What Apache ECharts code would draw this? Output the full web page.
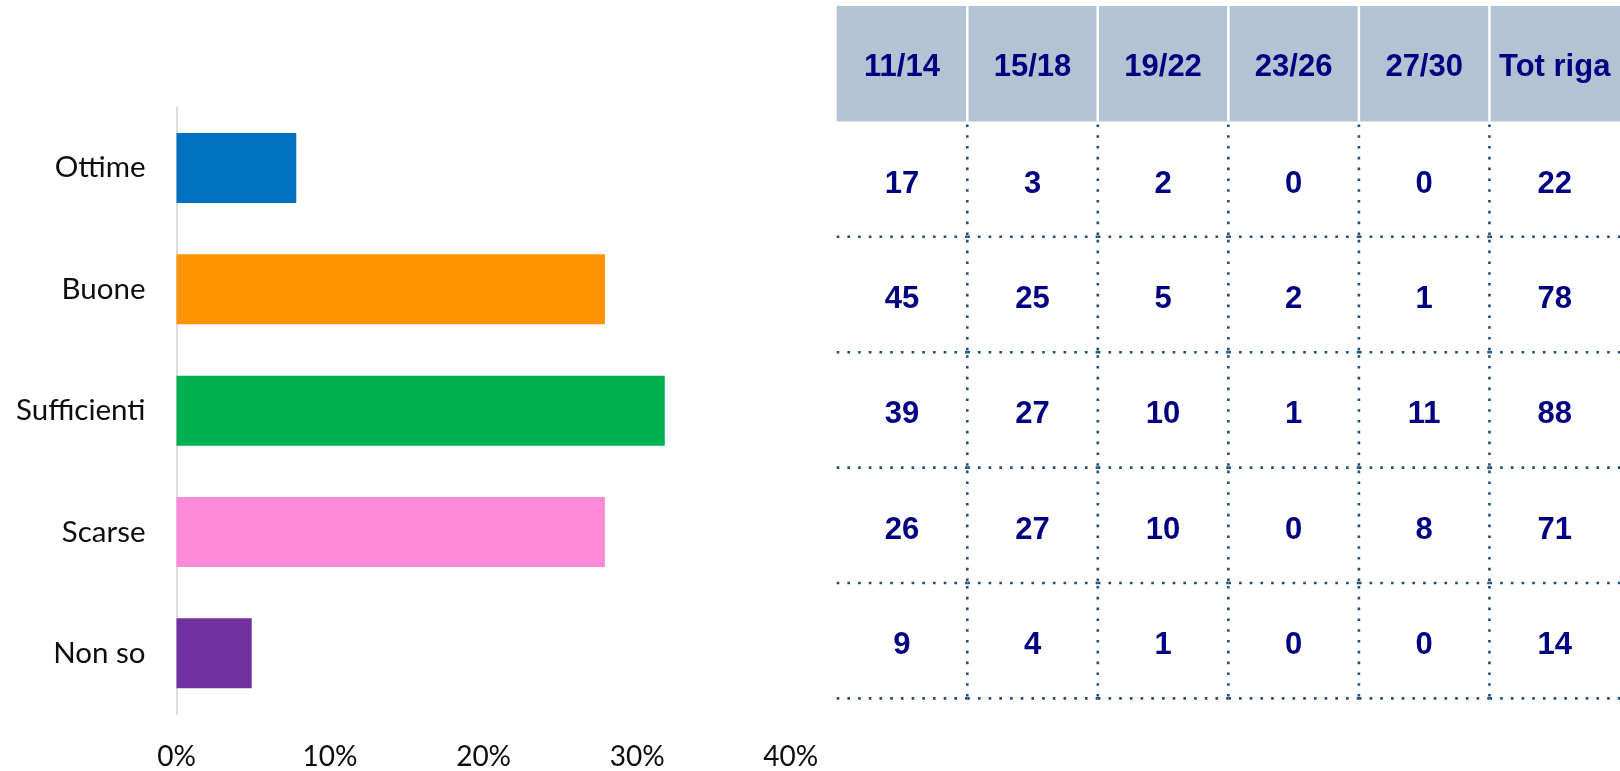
<!DOCTYPE html>
<html>
<head>
<meta charset="utf-8">
<script src="https://cdn.jsdelivr.net/npm/echarts@6/dist/echarts.min.js"></script>
<style>
html,body{margin:0;padding:0;background:#fff;}
#chart{width:1620px;height:771px;}
</style>
</head>
<body>
<div id="chart"></div>
<script>
// ---- Data ----
const categories = ['Ottime', 'Buone', 'Sufficienti', 'Scarse', 'Non so'];
const percentages = [7.8, 27.9, 31.8, 27.9, 4.9];
const barColors = ['#0070C0', '#FF9400', '#00B050', '#FF8AD8', '#7030A0'];
const xTicks = [0, 10, 20, 30, 40];

const tableColumns = ['11/14', '15/18', '19/22', '23/26', '27/30', 'Tot riga'];
const rowOttime = [17, 3, 2, 0, 0, 22];
const rowBuone = [45, 25, 5, 2, 1, 78];
const rowSufficienti = [39, 27, 10, 1, 11, 88];
const rowScarse = [26, 27, 10, 0, 8, 71];
const rowNonSo = [9, 4, 1, 0, 0, 14];

// ---- Build table cells ----
const tableRows = [rowOttime, rowBuone, rowSufficienti, rowScarse, rowNonSo];
const rowNames = ['header'].concat(categories);
const cells = [];
const cellLabels = [];
tableColumns.forEach(function (name, c) {
  cells.push([c, 0]);
  cellLabels.push(name);
});
tableRows.forEach(function (vals, r) {
  vals.forEach(function (v, c) {
    cells.push([c, r + 1]);
    cellLabels.push(String(v));
  });
});

const dotColor = '#1F4E79';
function renderCell(params, api) {
  const col = api.value(0), row = api.value(1);
  const c = api.coord([col, row]);
  const s = api.size([1, 1]);
  const x0 = c[0] - s[0] / 2, y0 = c[1] - s[1] / 2, w = s[0], h = s[1];
  const children = [];
  if (row === 0) {
    children.push({ type: 'rect', shape: { x: x0, y: y0, width: w, height: h }, style: { fill: '#B3C3D3' } });
    if (col > 0) {
      children.push({ type: 'line', shape: { x1: x0, y1: y0, x2: x0, y2: y0 + h }, style: { stroke: '#ffffff', lineWidth: 2.5 } });
    }
  } else {
    children.push({ type: 'line', shape: { x1: x0, y1: y0 + h, x2: x0 + w, y2: y0 + h },
      style: { stroke: dotColor, lineWidth: 2.6, lineDash: [2.6, 8.1] } });
    if (col > 0) {
      children.push({ type: 'line', shape: { x1: x0, y1: y0 + 3, x2: x0, y2: y0 + h },
        style: { stroke: dotColor, lineWidth: 2.6, lineDash: [2.6, 8.2] } });
    }
  }
  children.push({
    type: 'text',
    style: {
      text: cellLabels[params.dataIndex],
      x: c[0], y: c[1] + (row === 0 ? 4 : 5),
      align: 'center', verticalAlign: 'middle',
      fill: '#000080',
      font: 'bold 31px "Liberation Sans", Arial, sans-serif'
    }
  });
  return { type: 'group', children: children };
}

const chart = echarts.init(document.getElementById('chart'), null, { renderer: 'canvas' });
chart.setOption({
  animation: false,
  backgroundColor: '#ffffff',
  grid: [
    { left: 176.5, top: 107.3, width: 614.2, height: 609.4, containLabel: false },
    { left: 836.7, top: 6, width: 790.6, height: 692.4, containLabel: false }
  ],
  xAxis: [
    {
      gridIndex: 0, type: 'value', min: xTicks[0], max: xTicks[xTicks.length - 1], interval: 10,
      axisLine: { show: false }, axisTick: { show: false }, splitLine: { show: false },
      axisLabel: { formatter: '{value}%', fontSize: 28, color: '#0d0d0d', fontFamily: 'Lato, "Liberation Sans", sans-serif', margin: 29 }
    },
    {
      gridIndex: 1, type: 'category', data: tableColumns, boundaryGap: true,
      axisLine: { show: false }, axisTick: { show: false }, axisLabel: { show: false }, splitLine: { show: false }
    }
  ],
  yAxis: [
    {
      gridIndex: 0, type: 'category', data: categories, inverse: true,
      axisLine: { show: true, lineStyle: { color: '#D9D9D9', width: 1.8 } },
      axisTick: { show: false }, splitLine: { show: false },
      axisLabel: { fontSize: 29.5, color: '#0d0d0d', fontFamily: 'Lato, "Liberation Sans", sans-serif', margin: 31, padding: [4, 0, 0, 0] }
    },
    {
      gridIndex: 1, type: 'category', data: rowNames, inverse: true, boundaryGap: true,
      axisLine: { show: false }, axisTick: { show: false }, axisLabel: { show: false }, splitLine: { show: false }
    }
  ],
  series: [
    {
      type: 'bar', xAxisIndex: 0, yAxisIndex: 0, barWidth: 70,
      data: percentages.map(function (v, i) { return { value: v, itemStyle: { color: barColors[i] } }; })
    },
    {
      type: 'custom', xAxisIndex: 1, yAxisIndex: 1,
      renderItem: renderCell,
      data: cells,
      clip: false
    }
  ]
});
</script>
</body>
</html>
